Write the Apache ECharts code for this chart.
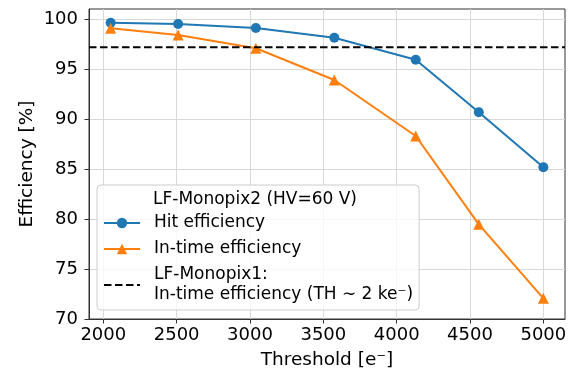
<!DOCTYPE html>
<html><head><meta charset="utf-8">
<script src="https://cdn.jsdelivr.net/npm/echarts@6/dist/echarts.min.js"></script>
<style>html,body{margin:0;padding:0;background:#fff}#c{width:573px;height:378px}</style>
</head><body><div id="c"></div>
<script>
// ---- data ----
const thresholds = [2050, 2510, 3040, 3575, 4130, 4560, 5000];
const hitEfficiency = [99.63, 99.5, 99.1, 98.13, 95.93, 90.67, 85.17];
const inTimeEfficiency = [99.07, 98.4, 97.07, 93.9, 88.3, 79.47, 72.07];
const monopix1Efficiency = 97.17;
const xTicks = [2000, 2500, 3000, 3500, 4000, 4500, 5000];
const yTicks = [70, 75, 80, 85, 90, 95, 100];
const xRange = [1902.5, 5147.5];
const yRange = [70, 101];
const names = {
  hit: 'Hit efficiency',
  inTime: 'In-time efficiency',
  ref: 'LF-Monopix1:\nIn-time efficiency (TH ∼ 2 ke⁻)',
  legendTitle: 'LF-Monopix2 (HV=60 V)',
  xName: 'Threshold [e⁻]',
  yName: 'Efficiency [%]'
};

const FONT = 'DejaVu Sans';
const pair = (xs, ys) => xs.map((x, i) => [x, ys[i]]);

const chart = echarts.init(document.getElementById('c'), null, {renderer: 'canvas'});
const axisColor = '#333';
chart.setOption({
  animation: false,
  backgroundColor: '#fff',
  textStyle: {fontFamily: FONT},
  grid: {left: 89, right: 8, top: 9, bottom: 59, show: true, borderColor: axisColor, borderWidth: 1,
         backgroundColor: 'transparent', containLabel: false, outerBoundsMode: 'none'},
  xAxis: {
    type: 'value', min: xRange[0], max: xRange[1],
    name: names.xName, nameLocation: 'middle', nameGap: 32, nameMoveOverlap: false,
    nameTextStyle: {fontSize: 18.5, color: '#000', fontFamily: FONT},
    axisLine: {show: true, onZero: false, lineStyle: {color: axisColor, width: 1}},
    axisTick: {show: true, inside: false, length: 4.5, customValues: xTicks, lineStyle: {color: axisColor, width: 1}},
    axisLabel: {customValues: xTicks, fontSize: 18, color: '#000', margin: 7, fontFamily: FONT,
                formatter: v => String(v)},
    splitLine: {show: true, lineStyle: {color: '#d8d8d8', width: 1}}
  },
  yAxis: {
    type: 'value', min: yRange[0], max: yRange[1],
    name: names.yName, nameLocation: 'middle', nameGap: 52, nameMoveOverlap: false,
    nameTextStyle: {fontSize: 18.5, color: '#000', fontFamily: FONT},
    axisLine: {show: true, onZero: false, lineStyle: {color: axisColor, width: 1}},
    axisTick: {show: true, inside: false, length: 4.5, customValues: yTicks, lineStyle: {color: axisColor, width: 1}},
    axisLabel: {customValues: yTicks, fontSize: 18, color: '#000', margin: 11, fontFamily: FONT,
                formatter: v => String(v)},
    splitLine: {show: true, lineStyle: {color: '#d8d8d8', width: 1}}
  },
  legend: {
    orient: 'vertical', left: 97, top: 185,
    padding: [28, 6, 5, 6], itemGap: 6, itemWidth: 36, itemHeight: 13,
    backgroundColor: 'rgba(255,255,255,0.8)', borderColor: '#cccccc', borderWidth: 1, borderRadius: 4,
    selectedMode: false,
    textStyle: {fontSize: 17, color: '#000', lineHeight: 20, fontFamily: FONT, padding: [0, 0, 0, 9]},
    data: [
      {name: names.hit},
      {name: names.inTime},
      {name: names.ref, itemStyle: {opacity: 0}}
    ]
  },
  graphic: [{
    type: 'text', x: 255, y: 200, z: 100,
    style: {text: names.legendTitle, align: 'center', verticalAlign: 'middle',
            font: '17px "DejaVu Sans"', fill: '#000'}
  }],
  series: [
    {
      name: names.hit, type: 'line', data: pair(thresholds, hitEfficiency),
      symbol: 'circle', symbolSize: 10, showSymbol: true,
      lineStyle: {color: '#1f77b4', width: 2}, itemStyle: {color: '#1f77b4'}, z: 2
    },
    {
      name: names.inTime, type: 'line', data: pair(thresholds, inTimeEfficiency),
      symbol: 'triangle', symbolSize: 11, showSymbol: true,
      lineStyle: {color: '#ff7f0e', width: 2}, itemStyle: {color: '#ff7f0e'}, z: 3
    },
    {
      name: names.ref, type: 'line', data: pair(xRange, [monopix1Efficiency, monopix1Efficiency]),
      symbol: 'none', showSymbol: false,
      lineStyle: {color: '#000', width: 2, type: [7.5, 3.5]}, itemStyle: {color: '#000'}, z: 4
    }
  ]
});
</script></body></html>
